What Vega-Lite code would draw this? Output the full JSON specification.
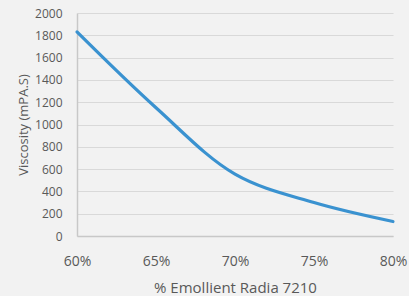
{
  "$schema": "https://vega.github.io/schema/vega-lite/v6.json",
  "autosize": "none",
  "width": 316,
  "height": 223,
  "padding": {"left": 77, "top": 13, "right": 16, "bottom": 60},
  "background": "#f2f2f2",
  "config": {
    "view": {"stroke": null},
    "font": "Open Sans",
    "axis": {
      "labelColor": "#595959",
      "titleColor": "#595959",
      "labelFont": "Open Sans",
      "titleFont": "Open Sans",
      "labelFontSize": 12,
      "titleFontWeight": "normal",
      "gridColor": "#d9d9d9",
      "gridWidth": 1,
      "domainColor": "#c8c8c8",
      "domainWidth": 1.5,
      "ticks": false
    }
  },
  "data": {
    "values": [
      {"pct": 0.60, "visc": 1830},
      {"pct": 0.65, "visc": 1150},
      {"pct": 0.70, "visc": 555},
      {"pct": 0.75, "visc": 300},
      {"pct": 0.80, "visc": 130}
    ]
  },
  "mark": {"type": "line", "interpolate": "catmull-rom", "color": "#3a92d0", "strokeWidth": 3.2, "strokeCap": "round"},
  "encoding": {
    "x": {
      "field": "pct",
      "type": "quantitative",
      "scale": {"domain": [0.6, 0.8], "nice": false, "zero": false},
      "axis": {
        "format": ".0%",
        "values": [0.6, 0.65, 0.7, 0.75, 0.8],
        "grid": false,
        "labelFontSize": 14,
        "labelPadding": 18,
        "labelFlush": false,
        "title": "% Emollient Radia 7210",
        "titleFontSize": 15,
        "titlePadding": 12
      }
    },
    "y": {
      "field": "visc",
      "type": "quantitative",
      "scale": {"domain": [0, 2000], "nice": false},
      "axis": {
        "format": "d",
        "values": [0, 200, 400, 600, 800, 1000, 1200, 1400, 1600, 1800, 2000],
        "labelPadding": 15,
        "title": "Viscosity (mPA.S)",
        "titleFontSize": 13,
        "titlePadding": 4
      }
    }
  }
}
